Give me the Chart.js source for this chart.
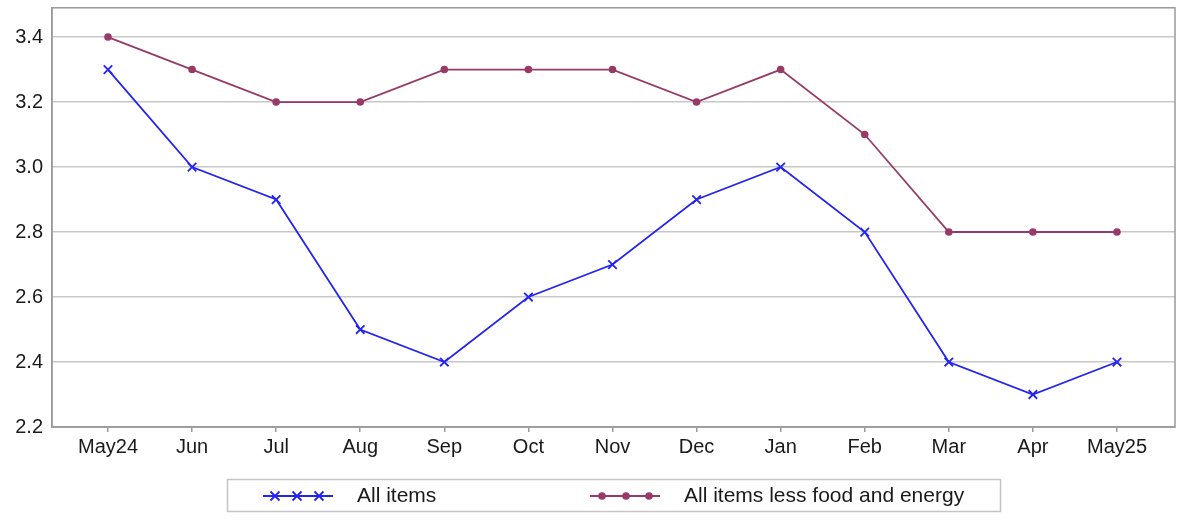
<!DOCTYPE html>
<html>
<head>
<meta charset="utf-8">
<script src="https://cdn.jsdelivr.net/npm/chart.js@4.4.0/dist/chart.umd.min.js"></script>
<style>
  html, body { margin: 0; padding: 0; background: #fff; }
  #wrap { width: 1192px; height: 523px; position: relative; }
</style>
</head>
<body>
<div id="wrap"><canvas id="cpiChart"></canvas></div>
<script>
// Chart data
const months = ['May24', 'Jun', 'Jul', 'Aug', 'Sep', 'Oct', 'Nov', 'Dec', 'Jan', 'Feb', 'Mar', 'Apr', 'May25'];
const allItems = [3.3, 3.0, 2.9, 2.5, 2.4, 2.6, 2.7, 2.9, 3.0, 2.8, 2.4, 2.3, 2.4];
const coreItems = [3.4, 3.3, 3.2, 3.2, 3.3, 3.3, 3.3, 3.2, 3.3, 3.1, 2.8, 2.8, 2.8];
const yTicks = [2.2, 2.4, 2.6, 2.8, 3.0, 3.2, 3.4];
const seriesNames = ['All items', 'All items less food and energy'];

const BLUE = '#2424f0';
const PURPLE = '#983a68';
const FONT = '"Liberation Sans", Arial, sans-serif';

function toPoints(values) {
    return values.map((v, i) => ({ x: i, y: v }));
}

// Box around the plot area plus a boxed legend underneath
const framePlugin = {
    id: 'frame',
    beforeDatasetsDraw(chart) {
        const { ctx, chartArea: a } = chart;
        ctx.save();
        ctx.strokeStyle = '#9a9a9a';
        ctx.lineWidth = 1.5;
        ctx.strokeRect(a.left, a.top, a.right - a.left, a.bottom - a.top);
        ctx.restore();
    },
    afterDraw(chart) {
        const ctx = chart.ctx;
        const cy = 496;
        ctx.save();
        ctx.strokeStyle = '#c4c4c4';
        ctx.lineWidth = 1.5;
        ctx.strokeRect(227.5, 479.5, 773, 32);

        // series 1 symbol: line with three crosses
        ctx.strokeStyle = BLUE;
        ctx.lineWidth = 1.8;
        ctx.beginPath();
        ctx.moveTo(263, cy); ctx.lineTo(333, cy);
        ctx.stroke();
        [275, 297, 319].forEach(x => {
            ctx.beginPath();
            ctx.moveTo(x - 4.5, cy - 4.5); ctx.lineTo(x + 4.5, cy + 4.5);
            ctx.moveTo(x + 4.5, cy - 4.5); ctx.lineTo(x - 4.5, cy + 4.5);
            ctx.stroke();
        });

        // series 2 symbol: line with three dots
        ctx.strokeStyle = PURPLE;
        ctx.fillStyle = PURPLE;
        ctx.beginPath();
        ctx.moveTo(590, cy); ctx.lineTo(660, cy);
        ctx.stroke();
        [602, 626, 649].forEach(x => {
            ctx.beginPath();
            ctx.arc(x, cy, 3.8, 0, Math.PI * 2);
            ctx.fill();
        });

        ctx.fillStyle = '#1a1a1a';
        ctx.font = '21px ' + FONT;
        ctx.textBaseline = 'middle';
        ctx.textAlign = 'left';
        ctx.fillText(seriesNames[0], 357, cy);
        ctx.fillText(seriesNames[1], 684, cy);
        ctx.restore();
    }
};

const ctx = document.getElementById('cpiChart').getContext('2d');
new Chart(ctx, {
    type: 'line',
    data: {
        datasets: [{
            label: seriesNames[0],
            data: toPoints(allItems),
            borderColor: BLUE,
            backgroundColor: BLUE,
            borderWidth: 1.8,
            pointStyle: 'crossRot',
            pointRadius: 6,
            pointBorderWidth: 1.8,
            tension: 0
        }, {
            label: seriesNames[1],
            data: toPoints(coreItems),
            borderColor: PURPLE,
            backgroundColor: PURPLE,
            borderWidth: 1.8,
            pointStyle: 'circle',
            pointRadius: 3.8,
            pointBorderWidth: 0,
            tension: 0
        }]
    },
    options: {
        responsive: true,
        maintainAspectRatio: false,
        animation: false,
        layout: { padding: { top: 7, right: 17, left: 0, bottom: 0 } },
        plugins: {
            legend: { display: false },
            tooltip: { enabled: false }
        },
        scales: {
            x: {
                type: 'linear',
                min: -0.666,
                max: 12.69,
                afterBuildTicks(scale) {
                    scale.ticks = months.map((m, i) => ({ value: i }));
                },
                afterFit(scale) {
                    scale.height = 96;
                    scale.paddingLeft = 0;
                    scale.paddingRight = 0;
                },
                grid: {
                    drawOnChartArea: false,
                    drawTicks: true,
                    tickLength: 5,
                    color: '#9a9a9a',
                    lineWidth: 1.5
                },
                border: { color: '#9a9a9a', width: 1.5 },
                ticks: {
                    autoSkip: false,
                    maxRotation: 0,
                    padding: 3,
                    color: '#1a1a1a',
                    font: { family: FONT, size: 20 },
                    callback: (v) => months[v]
                }
            },
            y: {
                min: 2.2,
                max: 3.49,
                afterBuildTicks(scale) {
                    scale.ticks = yTicks.map(v => ({ value: v }));
                },
                afterFit(scale) {
                    scale.width = 52;
                    scale.paddingTop = 0;
                    scale.paddingBottom = 0;
                },
                grid: {
                    drawTicks: false,
                    color: '#c8c8c8',
                    lineWidth: 1.5
                },
                border: { color: '#9a9a9a', width: 1.5 },
                ticks: {
                    padding: 9,
                    color: '#1a1a1a',
                    font: { family: FONT, size: 20 },
                    callback: (v) => v.toFixed(1)
                }
            }
        }
    },
    plugins: [framePlugin]
});
</script>
</body>
</html>
